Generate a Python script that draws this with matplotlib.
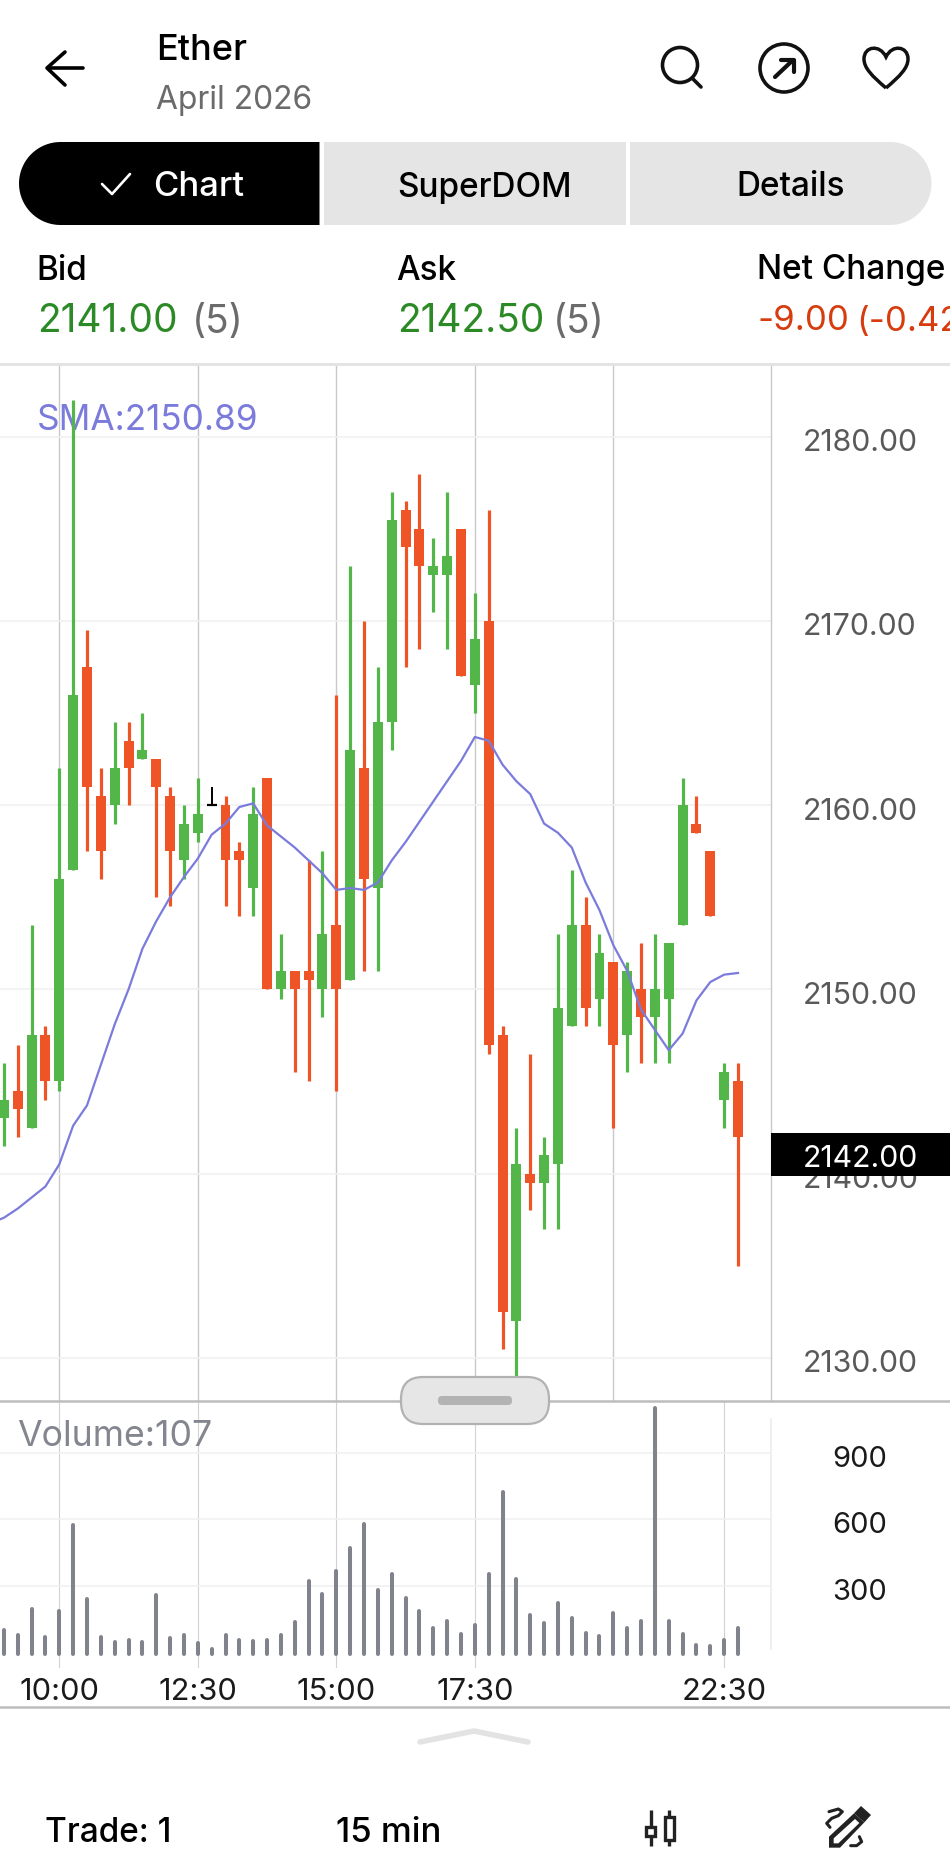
import numpy as np
import matplotlib
matplotlib.use('Agg')
import matplotlib.pyplot as plt
from matplotlib.patches import Circle, FancyBboxPatch, PathPatch, Polygon, Rectangle
from matplotlib.path import Path
from matplotlib.transforms import ScaledTranslation

plt.rcParams['font.family'] = ['Inter', 'Lato', 'DejaVu Sans']

# candles, 15 min bars, bar 0 is the 10:00 one
bar_index = list(range(-4, 50))
opens = [2143, 2144.5, 2142.5, 2147.5, 2145, 2156.5, 2167.5, 2160.5, 2160, 2163.5,
         2162.5, 2162.5, 2160.5, 2157, 2158.5, 2160, 2160, 2157.5, 2155.5, 2161.5,
         2150, 2151, 2151, 2150, 2153.5, 2150.5, 2162, 2155.5, 2164.5, 2176,
         2175, 2172.5, 2172.5, 2175, 2166.5, 2170, 2147.5, 2132, 2140, 2139.5,
         2140.5, 2148, 2153.5, 2149.5, 2151.5, 2147.5, 2150, 2148.5, 2149.5, 2153.5,
         2159, 2157.5, 2144, 2145]
highs = [2146, 2147, 2153.5, 2148, 2162, 2182, 2169.5, 2162, 2164.5, 2164.5,
         2165, 2162.5, 2161, 2160, 2161.5, 2161, 2160.5, 2158, 2161, 2161.5,
         2153, 2151, 2157, 2157.5, 2166, 2173, 2170, 2167.5, 2177, 2176.5,
         2178, 2174.5, 2177, 2175, 2171.5, 2176, 2148, 2142.5, 2146.5, 2142,
         2153, 2156.5, 2155, 2153, 2151.5, 2151.5, 2152.5, 2153, 2152.5, 2161.5,
         2160.5, 2157.5, 2146, 2146]
lows = [2141.5, 2142, 2142.5, 2144, 2144.5, 2156.5, 2157.5, 2156, 2159, 2160,
        2162.5, 2155, 2154.5, 2156, 2158, 2160, 2154.5, 2154, 2154, 2150,
        2149.5, 2145.5, 2145, 2148.5, 2144.5, 2150.5, 2151, 2151, 2163, 2167.5,
        2168.5, 2170.5, 2168.5, 2167, 2165, 2146.5, 2130.5, 2129, 2138, 2137,
        2137, 2148, 2148, 2148, 2142.5, 2145.5, 2146, 2146, 2146, 2153.5,
        2158.5, 2154, 2142.5, 2135]
closes = [2144, 2143.5, 2147.5, 2145, 2156, 2166, 2161, 2157.5, 2162, 2162,
          2163, 2161, 2157.5, 2159, 2159.5, 2160, 2157, 2157, 2159.5, 2150,
          2151, 2150, 2150.5, 2153, 2150, 2163, 2156, 2164.5, 2175.5, 2174,
          2173, 2173, 2173.5, 2167, 2169, 2147, 2132.5, 2140.5, 2139.5, 2141,
          2149, 2153.5, 2149, 2152, 2147, 2151, 2148.5, 2150, 2152.5, 2160,
          2158.5, 2154, 2145.5, 2142]

# SMA starts one bar before the first visible candle
sma_index = list(range(-5, 50))
sma = [2137.3, 2137.6, 2138.1, 2138.7, 2139.3, 2140.5, 2142.6, 2143.7, 2145.9, 2148.1,
       2150, 2152.2, 2153.7, 2155, 2156.1, 2157.1, 2158.4, 2159, 2159.9, 2160.1,
       2158.9, 2158.3, 2157.7, 2157, 2156.3, 2155.4, 2155.5, 2155.4, 2155.8, 2157,
       2158, 2159.1, 2160.2, 2161.3, 2162.4, 2163.7, 2163.5, 2162.2, 2161.3, 2160.6,
       2159, 2158.5, 2157.7, 2155.8, 2154.3, 2152.4, 2151, 2148.9, 2147.8, 2146.7,
       2147.6, 2149.4, 2150.4, 2150.8, 2150.89]

volumes = [99, 75, 194, 67, 184, 577, 238, 67, 43, 54,
           45, 258, 61, 78, 39, 14, 76, 54, 51, 54,
           75, 137, 321, 264, 368, 469, 578, 280, 351, 243,
           187, 107, 141, 82, 122, 354, 725, 330, 167, 131,
           220, 152, 85, 73, 176, 110, 141, 1104, 141, 82,
           31, 26, 54, 107]

price_ticks = [2130, 2140, 2150, 2160, 2170, 2180]
price_gridx = [0, 10, 20, 30, 40]
volume_ticks = [300, 600, 900]
time_ticks = [0, 10, 20, 30, 48]
time_labels = ['10:00', '12:30', '15:00', '17:30', '22:30']

GREEN = '#52b648'
RED = '#ef5426'
PURPLE = '#7b7bdc'
W, H = 950, 1866
XLIM = (-4.28, 51.36)
RIGHT = 770.7


def pane(top, bottom):
    return [0, 1 - bottom / H, RIGHT / W, (bottom - top) / H]


fig = plt.figure(figsize=(W / 100, H / 100), dpi=100, facecolor='white')
nudge = ScaledTranslation(0, -0.035, fig.dpi_scale_trans)

# price pane
ax = fig.add_axes(pane(364, 1400.7))
ax.set_xlim(*XLIM)
ax.set_ylim(2127.67, 2183.95)
for s in ['top', 'left', 'bottom']:
    ax.spines[s].set_visible(False)
ax.spines['right'].set_color('#c9c9c9')
ax.spines['right'].set_linewidth(1.0)
ax.yaxis.tick_right()
ax.set_yticks(price_ticks, labels=['%.2f' % p for p in price_ticks])
ax.set_xticks(price_gridx, labels=[])
ax.tick_params(axis='y', length=0, pad=23.3, labelsize=21.8, labelcolor='#595959')
ax.tick_params(axis='x', length=0)
for t in ax.get_yticklabels():
    t.set_transform(t.get_transform() + nudge)
ax.grid(axis='y', color='#f1f1f1', lw=1.2)
ax.grid(axis='x', color='#c9c9c9', lw=1.0)
ax.set_axisbelow(True)

ax.text(36.5 / RIGHT, 1 - (420 - 364) / (1400.7 - 364), 'SMA:2150.89', transform=ax.transAxes,
        color=PURPLE, fontsize=25.3, va='center', zorder=1)

for i, o, h, l, c in zip(bar_index, opens, highs, lows, closes):
    if o == c:
        # doji bar comes out black
        ax.vlines(i, l, h, color='black', lw=1.4, zorder=3)
        ax.hlines(o, i - 0.36, i + 0.36, color='black', lw=1.6, zorder=3)
        continue
    col = GREEN if c > o else RED
    ax.vlines(i, l, h, color=col, lw=2.3, zorder=3)
    ax.bar(i, abs(c - o), bottom=min(o, c), width=0.72, color=col, linewidth=0, zorder=3)

ax.plot(sma_index, sma, color=PURPLE, lw=1.6, zorder=4)

# volume pane
vax = fig.add_axes(pane(1400.7, 1668))
vax.set_xlim(*XLIM)
vax.set_ylim(-73, 1138)
for s in vax.spines.values():
    s.set_visible(False)
vax.yaxis.tick_right()
vax.set_yticks(volume_ticks, labels=[str(v) for v in volume_ticks])
vax.set_xticks(time_ticks, labels=time_labels)
vax.tick_params(axis='y', length=0, pad=44.5, labelsize=21, labelcolor='#1a1a1a')
vax.tick_params(axis='x', length=0, pad=7, labelsize=22.2, labelcolor='#1a1a1a')
for t in vax.get_yticklabels():
    t.set_transform(t.get_transform() + nudge)
vax.grid(axis='y', color='#f1f1f1', lw=1.2)
vax.grid(axis='x', color='#d2d2d2', lw=0.8)
vax.set_axisbelow(True)
vax.axvline(XLIM[1], ymin=0.07, ymax=0.93, color='#ececec', lw=1.2, clip_on=False)
vax.vlines(bar_index, -10, volumes, color='#80838c', lw=2.9, capstyle='round', zorder=3)
vax.text(17.5 / RIGHT, 1 - (1436.5 - 1400.7) / (1668 - 1400.7), 'Volume:107', transform=vax.transAxes,
         color='#83868e', fontsize=25.7, va='center')

# everything around the chart, drawn in screen pixels
ui = fig.add_axes([0, 0, 1, 1], zorder=10)
ui.set_xlim(0, W)
ui.set_ylim(H, 0)
ui.axis('off')


def label(x, y, s, size=24, color='black', weight='medium', ha='left'):
    ui.text(x, y, s, fontsize=size, color=color, fontweight=weight, ha=ha, va='center_baseline',
            clip_on=True, zorder=8)


def stroke(xs, ys, lw=2.4, color='black', cap='round'):
    ui.plot(xs, ys, color=color, lw=lw, solid_capstyle=cap, solid_joinstyle='round', zorder=6)


def tab(x0, x1, y0, y1, color, left=False, right=False):
    r = (y1 - y0) / 2
    cy = (y0 + y1) / 2
    t = np.linspace(-np.pi / 2, np.pi / 2, 40)
    pts = []
    if right:
        pts += list(zip(x1 - r + r * np.cos(t), cy + r * np.sin(t)))
    else:
        pts += [(x1, y0), (x1, y1)]
    if left:
        pts += list(zip(x0 + r - r * np.cos(t), cy - r * np.sin(t)))
    else:
        pts += [(x0, y1), (x0, y0)]
    ui.add_patch(Polygon(pts, closed=True, facecolor=color, edgecolor='none'))


# header
label(156.5, 47, 'Ether', size=26)
label(156.5, 97, 'April 2026', size=22.9, color='#6b6b6b', weight='normal')
stroke([83, 48], [68, 68], lw=2.6)
stroke([65, 47, 65], [52, 68, 85], lw=2.6)
ui.add_patch(Circle((680, 65), 17.5, fill=False, ec='#111111', lw=2.6))
stroke([692, 701], [78, 87], lw=2.6, color='#111111')
ui.add_patch(Circle((784, 68), 24, fill=False, ec='#111111', lw=2.6))
stroke([775, 793], [77, 60], lw=3, color='#111111')
stroke([781, 794, 794], [60, 60, 72], lw=3, color='#111111')
heart = Path([(886, 88), (872, 76), (864, 68), (864, 59), (864, 46), (880, 44), (886, 57),
              (892, 44), (908, 46), (908, 59), (908, 68), (900, 76), (886, 88)],
             [Path.MOVETO, Path.CURVE4, Path.CURVE4, Path.CURVE4, Path.CURVE4, Path.CURVE4, Path.CURVE4,
              Path.CURVE4, Path.CURVE4, Path.CURVE4, Path.CURVE4, Path.CURVE4, Path.CURVE4])
ui.add_patch(PathPatch(heart, fill=False, ec='#111111', lw=2.5))

# tabs
tab(19, 319.5, 142, 225, 'black', left=True)
tab(324, 625.5, 142, 225, '#e5e5e5')
tab(630, 931.5, 142, 225, '#e5e5e5', right=True)
stroke([102, 112, 130], [184, 194, 174], lw=1.9, color='white')
label(153, 184, 'Chart', size=25, color='white')
label(397, 184, 'SuperDOM')
label(736, 184, 'Details')

# quote row
label(36.5, 267, 'Bid')
label(396.5, 267, 'Ask')
label(757, 267, 'Net Change')
label(37, 318, '2141.00', size=28, color='#2b8a25', weight='normal')
label(192, 318, '(5)', size=28, color='#6b6b6b', weight='normal')
label(397, 318, '2142.50', size=28, color='#2b8a25', weight='normal')
label(553, 318, '(5)', size=28, color='#6b6b6b', weight='normal')
label(757, 318, '-9.00', size=25, color='#d63c0e', weight='normal')
label(856, 318, '(-0.42%)', size=25, color='#d63c0e', weight='normal')

# pane separators
ui.plot([0, W], [364, 364], color='#e4e4e4', lw=2.2)
ui.plot([0, W], [1400.7, 1400.7], color='#bdbdbd', lw=1.8)
ui.plot([0, W], [1706.7, 1706.7], color='#bdbdbd', lw=1.8)

# last price box
ui.add_patch(Rectangle((RIGHT, 1132.5), W - RIGHT, 43.5, facecolor='black', edgecolor='none', zorder=5))
label(803, 1156, '2142.00', size=21.8, color='white', weight='normal')

# drag handle between panes
ui.add_patch(FancyBboxPatch((401, 1377), 148, 47, boxstyle='round,pad=0,rounding_size=22',
                            facecolor='#e6e6e6', edgecolor='#b2b2b2', lw=1.6, zorder=5))
ui.add_patch(FancyBboxPatch((438, 1396), 74, 9, boxstyle='round,pad=0,rounding_size=4',
                            facecolor='#b3b3b3', edgecolor='none', zorder=6))

# bottom bar
stroke([420, 474, 528], [1742, 1731, 1742], lw=4, color='#e3e3e3')
label(45, 1829, 'Trade: 1')
label(336, 1829, '15 min', size=25)

# candle icon
stroke([650.7, 650.7], [1810, 1846], lw=2.4, color='#222222', cap='butt')
stroke([669, 669], [1810, 1846], lw=2.4, color='#222222', cap='butt')
ui.add_patch(Rectangle((645.7, 1826.5), 9.6, 9, facecolor='white', edgecolor='#222222', lw=2.4, zorder=7))
ui.add_patch(Rectangle((664.7, 1816.7), 9.6, 23.6, facecolor='white', edgecolor='#222222', lw=2.4, zorder=7))

# drawing tool icon, points taken from the pencil glyph
ox, oy = 630, 1795
pencil_body = np.array([(597, 158), (597, 125), (672, 55), (703, 82), (630, 158)]) / 3 + (ox, oy)
pencil_slit = np.array([(611, 130), (675, 72), (688, 84), (625, 145), (611, 145)]) / 3 + (ox, oy)
pencil_cap = np.array([(693, 33), (723, 60), (703, 82), (672, 55)]) / 3 + (ox, oy)
ui.add_patch(Polygon(pencil_body, closed=True, facecolor='#222222', edgecolor='none', zorder=6))
ui.add_patch(Polygon(pencil_slit, closed=True, facecolor='white', edgecolor='none', zorder=7))
ui.add_patch(Polygon(pencil_cap, closed=True, facecolor='#222222', edgecolor='none', zorder=7))
squiggle_a = np.array([(600, 97), (590, 85), (605, 70), (625, 62), (637, 50), (625, 42), (597, 50)]) / 3 + (ox, oy)
squiggle_b = np.array([(688, 125), (695, 140), (680, 152), (662, 152)]) / 3 + (ox, oy)
stroke(squiggle_a[:, 0], squiggle_a[:, 1], lw=2.2, color='#222222')
stroke(squiggle_b[:, 0], squiggle_b[:, 1], lw=2.2, color='#222222')

fig.savefig('out.png', dpi=100, facecolor='white')
